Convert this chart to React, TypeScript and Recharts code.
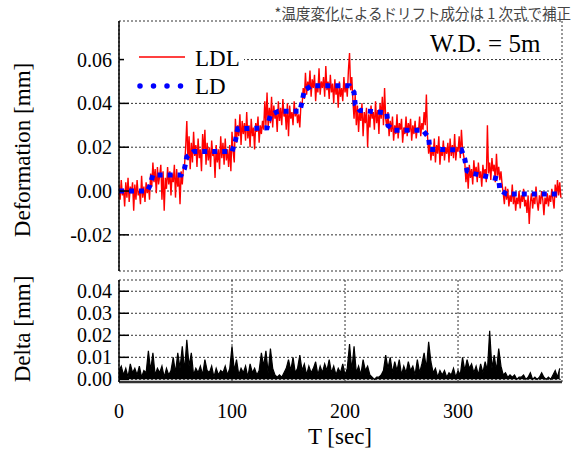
import { Area, CartesianGrid, ComposedChart, Line, LineChart, XAxis, YAxis } from "recharts";

// LDL record: one value per second from t = 0
const LDL_STEP_SEC = 1;
// delta record: one value every 2 s from t = 0
const DELTA_STEP_SEC = 2;

// LDL deformation [mm]
const ldlValues = [
  0.003, -0.004, 0.005, -0.002, 0.001, -0.007, 0.004, -0.003, 0.006, -0.005, 0.002, -0.001, 0.004, -0.009,
  0.003, -0.004, 0.005, -0.002, 0.0, -0.006, 0.007, -0.003, 0.002, -0.005, 0.004, -0.001, 0.003, -0.004,
  0.008, 0.002, 0.013, 0.004, 0.01, -0.001, 0.011, 0.003, 0.007, 0.012, -0.004, 0.009, -0.009, 0.006, 0.001,
  0.011, 0.003, 0.009, -0.002, 0.008, 0.004, 0.012, -0.003, 0.01, 0.002, 0.007, -0.006, 0.009, 0.003, 0.011,
  0.012, 0.02, 0.032, 0.014, 0.025, 0.01, 0.022, 0.013, 0.027, 0.016, 0.021, 0.011, 0.024, 0.015, 0.019,
  0.009, 0.026, 0.017, 0.028, 0.012, 0.022, 0.014, 0.02, 0.011, 0.023, 0.016, 0.018, 0.006, 0.021, 0.013,
  0.019, 0.01, 0.025, 0.015, 0.022, 0.012, 0.024, 0.014, 0.019, 0.011, 0.021, 0.009,
  0.027, 0.018, 0.013, 0.033, 0.022, 0.03, 0.025, 0.035, 0.021, 0.032, 0.026, 0.031, 0.023, 0.036, 0.024,
  0.03, 0.02, 0.033, 0.025, 0.029, 0.019, 0.031, 0.027, 0.034, 0.022, 0.03, 0.026, 0.032, 0.028, 0.041,
  0.03, 0.045, 0.029,
  0.038, 0.031, 0.043, 0.029, 0.039, 0.033, 0.036, 0.027, 0.041, 0.032, 0.038, 0.03, 0.042, 0.034, 0.037,
  0.028, 0.04, 0.025, 0.039, 0.033, 0.036, 0.03, 0.041, 0.034, 0.038, 0.031, 0.035, 0.029, 0.04,
  0.039, 0.047, 0.042, 0.054, 0.044, 0.05, 0.046, 0.055, 0.043, 0.051, 0.047, 0.053, 0.041, 0.049, 0.045,
  0.056, 0.044, 0.05, 0.047, 0.052, 0.043, 0.057, 0.046, 0.05, 0.042, 0.053, 0.045, 0.049, 0.04, 0.051,
  0.044, 0.048, 0.038, 0.05, 0.043, 0.047, 0.041, 0.052, 0.045, 0.049, 0.043, 0.055, 0.063, 0.046, 0.052,
  0.041, 0.033, 0.044, 0.03, 0.039, 0.027, 0.037, 0.032, 0.04, 0.025, 0.036, 0.031, 0.038, 0.02, 0.035,
  0.029, 0.039, 0.033, 0.036, 0.028, 0.041, 0.031, 0.037, 0.026, 0.04, 0.033, 0.043, 0.03, 0.047, 0.033, 0.029,
  0.036, 0.025, 0.032, 0.027, 0.034, 0.023, 0.03, 0.026, 0.035, 0.024, 0.031, 0.028, 0.033, 0.022, 0.029,
  0.026, 0.034, 0.025, 0.031, 0.027, 0.033, 0.023, 0.03, 0.026, 0.032, 0.024, 0.029, 0.027, 0.034, 0.025,
  0.031, 0.028, 0.036, 0.03, 0.044,
  0.025, 0.017, 0.022, 0.014, 0.02, 0.016, 0.024, 0.013, 0.021, 0.017, 0.025, 0.012, 0.019, 0.016, 0.023,
  0.014, 0.02, 0.017, 0.022, 0.013, 0.024, 0.016, 0.021, 0.015, 0.026, 0.014, 0.02, 0.018, 0.025, 0.015,
  0.028, 0.019, 0.016,
  0.013, 0.004, 0.011, 0.001, 0.012, 0.006, 0.01, 0.003, 0.014, 0.007, 0.011, 0.004, 0.013, 0.006, 0.009,
  0.002, 0.012, 0.007, 0.01, 0.004, 0.03, 0.008, 0.013, 0.005, 0.015, 0.009, 0.012, 0.004, 0.017, 0.007,
  0.011, 0.005, 0.009, 0.003,
  -0.001, -0.006, 0.002, -0.004, 0.001, -0.007, -0.002, -0.005, 0.003, -0.006, -0.001, -0.009, -0.003,
  -0.006, 0.0, -0.008, -0.002, -0.005, 0.001, -0.007, -0.004, -0.01, -0.002, -0.015, -0.005, -0.001,
  -0.008, -0.003, -0.006, 0.002, -0.005, -0.009, -0.002, -0.006, 0.0, -0.004, -0.011, -0.003, -0.006,
  -0.001, -0.007, -0.002, -0.005, 0.001, -0.004, -0.008, 0.003, -0.003, 0.005, -0.002, 0.004, -0.003,
];

// delta [mm]
const deltaValues = [
  0.004, 0.006, 0.002, 0.005, 0.001, 0.007, 0.003, 0.005, 0.002, 0.006, 0.001, 0.004, 0.003,
  0.013, 0.004, 0.012, 0.002, 0.005, 0.003, 0.006, 0.001, 0.005, 0.002, 0.004,
  0.01, 0.003, 0.012, 0.005, 0.015, 0.004, 0.018, 0.006, 0.012, 0.002, 0.005, 0.003, 0.006, 0.002, 0.009, 0.004,
  0.003, 0.006, 0.001, 0.005, 0.002, 0.004, 0.003, 0.006, 0.002, 0.005,
  0.015, 0.004, 0.009, 0.002, 0.005, 0.003, 0.006, 0.001, 0.007, 0.003, 0.005, 0.002, 0.004,
  0.012, 0.006, 0.013, 0.003, 0.014, 0.005, 0.002, 0.001, 0.002, 0.001,
  0.003, 0.005, 0.009, 0.004, 0.01, 0.003, 0.005, 0.011, 0.004, 0.007, 0.002, 0.006, 0.003, 0.005, 0.008,
  0.002, 0.006, 0.003, 0.007, 0.004, 0.009, 0.003,
  0.006, 0.002, 0.005, 0.003, 0.007, 0.002, 0.005, 0.016, 0.004, 0.015, 0.003, 0.006, 0.002, 0.009, 0.004,
  0.006, 0.002,
  0.001, 0.0, 0.001, 0.001, 0.002, 0.004, 0.011, 0.005, 0.01, 0.003, 0.008, 0.004, 0.009, 0.002, 0.006,
  0.003, 0.008, 0.004, 0.006, 0.002, 0.009, 0.003, 0.007, 0.012, 0.005, 0.017, 0.008,
  0.003, 0.005, 0.001, 0.004, 0.002, 0.004, 0.001, 0.003, 0.002, 0.005, 0.001, 0.004, 0.002, 0.01, 0.004, 0.009,
  0.005, 0.007, 0.003, 0.006, 0.002, 0.007, 0.003, 0.008, 0.004, 0.022, 0.005, 0.011, 0.004, 0.014, 0.006,
  0.002, 0.003, 0.001, 0.002, 0.001, 0.002, 0.0, 0.001, 0.001, 0.002, 0.0, 0.001, 0.003, 0.0, 0.001, 0.0,
  0.001, 0.003, 0.001, 0.0, 0.001, 0.0, 0.002, 0.004, 0.001, 0.005,
];

// LD (stepped reference), breakpoints
const ldTimes = [
  0, 25, 27, 30, 55, 58, 60, 66, 100, 103, 105, 131, 134, 141, 160, 162, 164, 170, 204, 208, 209, 213,
  237, 238, 243, 269, 274, 275, 303, 306, 308, 313, 336, 337, 343, 388,
];
const ldValues = [
  0.0, 0.0, 0.002, 0.0073, 0.0073, 0.0103, 0.0156, 0.018, 0.018, 0.0229, 0.0284, 0.0288, 0.0347, 0.0364,
  0.0364, 0.0407, 0.046, 0.048, 0.048, 0.045, 0.0395, 0.0368, 0.0357, 0.03, 0.0277, 0.0277, 0.0244, 0.019,
  0.0188, 0.0145, 0.0092, 0.008, 0.0055, 0.0005, -0.0014, -0.0014,
];

const xTicks = [0, 100, 200, 300];
const deformationTicks = [-0.02, 0, 0.02, 0.04, 0.06];
const deltaTicks = [0, 0.01, 0.02, 0.03, 0.04];

const ldlRows = ldlValues.map((v, i) => ({ t: i * LDL_STEP_SEC, v }));
const deltaRows = deltaValues.map((v, i) => ({ t: i * DELTA_STEP_SEC, v }));
const ldRows = ldTimes.map((t, i) => ({ t, v: ldValues[i] }));

const serif = '"Liberation Serif", "Times New Roman", "DejaVu Serif", serif';
const textStyle = { fontFamily: serif };
const xDomain: [number, number] = [0, 392];
const deformationDomain: [number, number] = [-0.0365, 0.0776];
const deltaDomain: [number, number] = [-0.0012, 0.0451];

// tick labels drawn by hand so the serif face sticks
function YTick(props: any) {
  const { x, y, payload } = props;
  return (
    <text x={x} y={y} dy="0.355em" textAnchor="end" fontSize={20} fill="#000" style={textStyle}>
      {Number(payload.value).toFixed(2)}
    </text>
  );
}

function XTick(props: any) {
  const { x, y, payload } = props;
  return (
    <text x={x} y={y} dy="0.71em" textAnchor="middle" fontSize={20} fill="#000" style={textStyle}>
      {payload.value}
    </text>
  );
}

export default function App() {
  return (
    <div
      style={{
        position: "absolute",
        left: 0,
        top: 0,
        width: 574,
        height: 461,
        background: "#fff",
        fontFamily: serif,
      }}
    >
      <div style={{ position: "absolute", left: 0, top: 0 }}>
        <LineChart
          width={574}
          height={272}
          margin={{ top: 21, right: 12, bottom: 1, left: 0 }}
        >
          <CartesianGrid
            xAxisId="top"
            yAxisId="left"
            stroke="#333"
            strokeDasharray="2 2"
          />
          <XAxis
            xAxisId="top"
            orientation="top"
            type="number"
            dataKey="t"
            domain={xDomain}
            ticks={xTicks}
            allowDataOverflow
            height={0}
            tick={false}
            tickSize={-8}
            stroke="#000"
            strokeWidth={1.5}
          />
          <YAxis
            yAxisId="left"
            type="number"
            domain={deformationDomain}
            ticks={deformationTicks}
            interval={0}
            allowDataOverflow
            width={119}
            tickSize={-10}
            tickMargin={17}
            tick={<YTick />}
            stroke="#000"
            strokeWidth={1.5}
          />
          <YAxis
            yAxisId="right"
            orientation="right"
            type="number"
            domain={deformationDomain}
            ticks={deformationTicks}
            allowDataOverflow
            width={0}
            tick={false}
            tickSize={-10}
            stroke="#000"
            strokeWidth={1.5}
          />
          <Line
            xAxisId="top"
            yAxisId="left"
            data={ldlRows}
            dataKey="v"
            type="linear"
            stroke="#ff0000"
            strokeWidth={1.4}
            dot={false}
            isAnimationActive={false}
          />
          <Line
            xAxisId="top"
            yAxisId="left"
            data={ldRows}
            dataKey="v"
            type="linear"
            stroke="#0000ff"
            strokeWidth={5}
            strokeDasharray="5 5"
            dot={false}
            isAnimationActive={false}
          />
        </LineChart>
      </div>

      <div style={{ position: "absolute", left: 0, top: 270 }}>
        <ComposedChart
          width={574}
          height={191}
          data={deltaRows}
          margin={{ top: 10, right: 12, bottom: 0, left: 0 }}
        >
          <CartesianGrid
            xAxisId="bottom"
            yAxisId="left"
            stroke="#333"
            strokeDasharray="2 2"
          />
          <XAxis
            xAxisId="bottom"
            type="number"
            dataKey="t"
            domain={xDomain}
            ticks={xTicks}
            allowDataOverflow
            height={79}
            tickLine={false}
            tickMargin={16}
            tick={<XTick />}
            axisLine={{ stroke: "#333", strokeWidth: 2.5 }}
          />
          <YAxis
            yAxisId="left"
            type="number"
            domain={deltaDomain}
            ticks={deltaTicks}
            interval={0}
            allowDataOverflow
            width={119}
            tickSize={-10}
            tickMargin={17}
            tick={<YTick />}
            stroke="#000"
            strokeWidth={1.5}
          />
          <YAxis
            yAxisId="right"
            orientation="right"
            type="number"
            domain={deltaDomain}
            ticks={deltaTicks}
            allowDataOverflow
            width={0}
            tick={false}
            tickSize={-10}
            stroke="#000"
            strokeWidth={2}
          />
          <Area
            xAxisId="bottom"
            yAxisId="left"
            dataKey="v"
            type="linear"
            baseValue={0}
            stroke="#000"
            strokeWidth={1.2}
            fill="#000"
            fillOpacity={1}
            dot={false}
            activeDot={false}
            isAnimationActive={false}
          />
        </ComposedChart>
      </div>

      {/* titles, legend and notes */}
      <svg
        width={574}
        height={461}
        style={{ position: "absolute", left: 0, top: 0, pointerEvents: "none" }}
      >
        <text
          x={571}
          y={19}
          textAnchor="end"
          fontSize={14.5}
          fill="#444"
          style={{ fontFamily: '"Noto Sans CJK JP", sans-serif' }}
        >
          *温度変化によるドリフト成分は 1 次式で補正
        </text>
        <text x={430} y={52} fontSize={25} style={textStyle} fill="#000">
          W.D. = 5m
        </text>

        <rect x={124} y={40} width={120} height={60} fill="#fff" />
        <line x1={139} y1={57} x2={185} y2={57} stroke="#ff0000" strokeWidth={1.5} />
        <text x={195} y={66} fontSize={23} style={textStyle} fill="#000">
          LDL
        </text>
        <line
          x1={140}
          y1={86}
          x2={181}
          y2={86}
          stroke="#0000ff"
          strokeWidth={5.5}
          strokeLinecap="round"
          strokeDasharray="0 13.5"
        />
        <text x={195} y={94} fontSize={23} style={textStyle} fill="#000">
          LD
        </text>

        <text
          transform="translate(30,150) rotate(-90)"
          textAnchor="middle"
          fontSize={23}
          style={textStyle}
          fill="#000"
        >
          Deformation [mm]
        </text>
        <text
          transform="translate(30,329) rotate(-90)"
          textAnchor="middle"
          fontSize={23}
          style={textStyle}
          fill="#000"
        >
          Delta [mm]
        </text>
        <text x={340} y={444} textAnchor="middle" fontSize={23} style={textStyle} fill="#000">
          T [sec]
        </text>
      </svg>
    </div>
  );
}
